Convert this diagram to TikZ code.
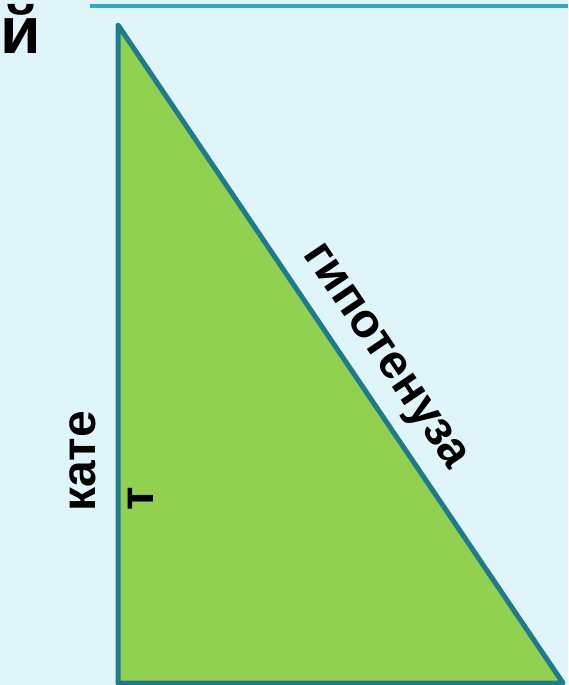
\documentclass[tikz,border=0pt]{standalone}
\usepackage{fontspec}
\setmainfont{Liberation Sans}
\definecolor{bgblue}{HTML}{DFF5FA}
\definecolor{topline}{HTML}{34A7C3}
\definecolor{edge}{HTML}{1F7A8C}
\definecolor{leaf}{HTML}{92D050}
\begin{document}
\begin{tikzpicture}[x=1pt,y=-1pt,
  lbl/.style={inner sep=0pt,outer sep=0pt,font=\fontsize{48}{48}\selectfont\bfseries,text=black}]
\fill[bgblue] (0,0) rectangle (568,685);
\useasboundingbox (0,0) rectangle (568,685);
\coordinate (L1) at (90,6);
\coordinate (L2) at (568,6);
\draw[topline,line width=4pt] (L1) -- (L2);
\coordinate (A) at (118,25);
\coordinate (B) at (118,683);
\coordinate (C) at (563,683);
\filldraw[fill=leaf,draw=edge,line width=5pt,line join=round] (A) -- (B) -- (C) -- cycle;
\node[lbl,anchor=base west,font=\fontsize{66}{66}\selectfont\bfseries] (ji) at (0,53) {й};
\node[lbl,anchor=base,rotate=-55.9] (hyp) at (376,362.5) {гипотенуза};
\node[lbl,anchor=base,rotate=90] (kat) at (95,461.5) {кате};
\node[lbl,anchor=base,rotate=90] (t) at (153,499) {т};
\end{tikzpicture}
\end{document}
